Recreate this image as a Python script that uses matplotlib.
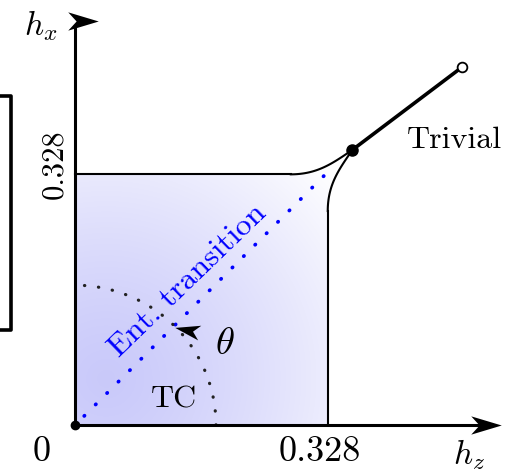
import numpy as np
import matplotlib
matplotlib.use("Agg")
import matplotlib.pyplot as plt
from matplotlib.path import Path
from matplotlib.patches import PathPatch
from matplotlib.markers import MarkerStyle
from matplotlib.transforms import Affine2D

plt.rcParams['mathtext.fontset'] = 'cm'

# phase diagram values
tc_edge = 0.328            # TC phase edge on h_z and h_x
knee = 0.28                # straight edge starts to bend here
crit_point = (0.36, 0.36)  # multicritical point
trivial_end = (0.502, 0.468)
ent_x = [0.012, 0.327]     # self-dual line (entanglement transition)
ent_y = [0.012, 0.330]
arc_radius = 0.183
arc_angles = np.linspace(0, 90, 200)
tick_text = "0.328"


def bezier(p0, p1, p2, p3, n=80):
    t = np.linspace(0, 1, n)[:, None]
    p0, p1, p2, p3 = (np.asarray(p, float) for p in (p0, p1, p2, p3))
    return (1 - t)**3 * p0 + 3 * (1 - t)**2 * t * p1 + 3 * (1 - t) * t**2 * p2 + t**3 * p3


top_curve = bezier((knee, tc_edge), (0.315, tc_edge), (0.335, 0.343), crit_point)
side_curve = top_curve[:, ::-1]

fig = plt.figure(figsize=(5.05, 4.71), dpi=100)
ax = fig.add_axes([0, 0, 1, 1])

# shaded TC region
region = np.vstack([[0, 0], [tc_edge, 0], side_curve, top_curve[::-1], [0, tc_edge], [0, 0]])
patch = PathPatch(Path(region, closed=True), facecolor='none', edgecolor='none')
ax.add_patch(patch)
gx, gy = np.meshgrid(np.linspace(0, 0.37, 300), np.linspace(0, 0.37, 300))
t = np.clip(np.hypot(gx - 0.04, gy - 0.06) / 0.40, 0, 1)[..., None] ** 1.3
base = np.array([0.79, 0.79, 0.98])
img = base * (1 - t) + t
im = ax.imshow(img, extent=[0, 0.37, 0, 0.37], origin='lower',
               interpolation='bilinear', zorder=0)
im.set_clip_path(patch)

# phase boundaries
ax.plot([0, knee], [tc_edge, tc_edge], color='black', lw=1.5)
ax.plot(top_curve[:, 0], top_curve[:, 1], color='black', lw=1.5)
ax.plot([tc_edge, tc_edge], [0, knee], color='black', lw=1.5)
ax.plot(side_curve[:, 0], side_curve[:, 1], color='black', lw=1.5)
ax.plot([crit_point[0], trivial_end[0]], [crit_point[1], trivial_end[1]],
        color='black', lw=2.6, solid_capstyle='butt')
ax.plot(*crit_point, 'o', color='black', ms=8, zorder=5)
ax.plot(*trivial_end, 'o', mfc='white', mec='black', mew=1.3, ms=7, zorder=5)

# entanglement transition line
ax.plot(ent_x, ent_y, color='blue', lw=2.7, linestyle=(0, (0.1, 4.2)),
        dash_capstyle='round')

# angle arc
ang = np.deg2rad(arc_angles)
ax.plot(arc_radius * np.cos(ang), arc_radius * np.sin(ang), color='#222222',
        lw=2.3, linestyle=(0, (0.1, 4.3)), dash_capstyle='round')

# axes
stealth = Path([(1, 0), (-1, 0.6), (-0.45, 0), (-1, -0.6), (1, 0)],
               [Path.MOVETO, Path.LINETO, Path.LINETO, Path.LINETO, Path.CLOSEPOLY])


def arrow_head(x, y, angle, size):
    m = MarkerStyle(stealth, transform=Affine2D().rotate_deg(angle))
    ax.plot(x, y, marker=m, ms=size, color='black', mew=0, zorder=6)


ax.plot([0, 0.525], [0, 0], color='black', lw=2.2)
ax.plot([0, 0], [0, 0.52], color='black', lw=2.2)
arrow_head(0.533, 0, 0, 22)
arrow_head(0.0104, 0.529, 0, 22)
arrow_head(0.146, 0.125, 168, 18)
ax.plot(0, 0, 'o', color='black', ms=6, zorder=6)

# labels
ax.text(-0.044, 0.523, r'$h_x$', fontsize=24, ha='center', va='center')
ax.text(0.511, -0.038, r'$h_z$', fontsize=24, ha='center', va='center')
ax.text(0.318, -0.036, tick_text, fontsize=26, family='cmr10', ha='center', va='center')
ax.text(-0.027, 0.341, tick_text, fontsize=22, family='cmr10', rotation=90,
        ha='center', va='center')
ax.text(-0.043, -0.036, '0', fontsize=26, family='cmr10', ha='center', va='center')
ax.text(0.195, 0.108, r'$\theta$', fontsize=28, ha='center', va='center')
ax.text(0.128, 0.033, 'TC', fontsize=23, family='cmr10', ha='center', va='center')
ax.text(0.493, 0.373, 'Trivial', fontsize=23, family='cmr10', ha='center', va='center')
ax.text(0.147, 0.189, 'Ent. transition', fontsize=23, family='cmr10', color='blue',
        rotation=44, rotation_mode='anchor', ha='center', va='center')

# neighbouring frame edge on the left
ax.plot([-0.12, -0.0824, -0.0824, -0.12], [0.431, 0.431, 0.124, 0.124],
        color='black', lw=2.6)

ax.set_xlim(-0.0973, 0.558)
ax.set_ylim(-0.060, 0.556)
ax.set_aspect('auto')
ax.axis('off')

fig.savefig('out.png', dpi=100)
